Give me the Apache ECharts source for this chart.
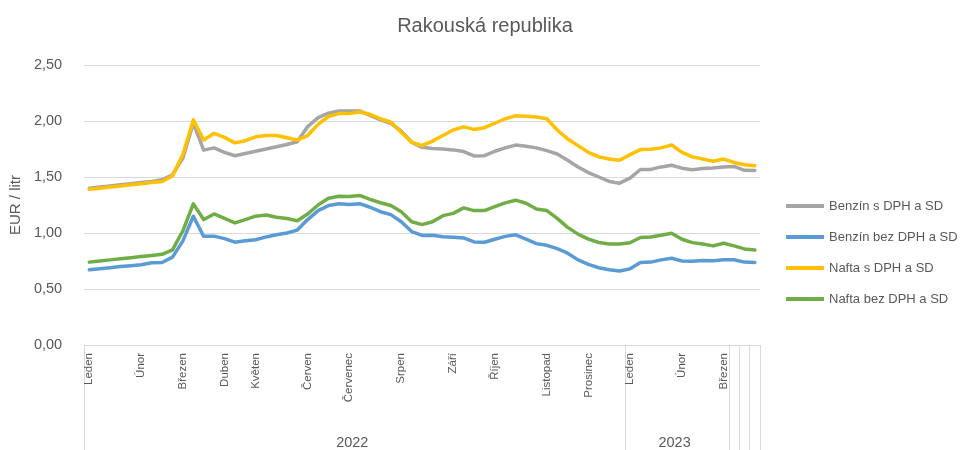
<!DOCTYPE html>
<html><head><meta charset="utf-8">
<script src="https://cdn.jsdelivr.net/npm/echarts@6/dist/echarts.min.js"></script>
<style>html,body{margin:0;padding:0;background:#fff}#c{width:970px;height:450px}</style>
</head><body><div id="c"></div>
<script>
// Month tick labels, one entry per weekly category ('' = no label)
const monthLabels = [
  'Leden','','','','','Únor','','','','Březen',
  '','','','Duben','','','Květen','','','',
  '','Červen','','','','Červenec','','','','',
  'Srpen','','','','','Září','','','','Říjen',
  '','','','','Listopad','','','','Prosinec','',
  '','','Leden','','','','','Únor','','',
  '','Březen','','',''
];
// Year groups: [label, number of weekly categories]
const yearGroups = [['2022', 52], ['2023', 10], ['', 1], ['', 1], ['', 1]];

const seriesNames = ['Benzín s DPH a SD', 'Benzín bez DPH a SD', 'Nafta s DPH a SD', 'Nafta bez DPH a SD'];

const benzinS = [
  1.40,1.41,1.42,1.43,1.44,1.45,1.46,1.475,1.52,1.67,
  1.98,1.74,1.76,1.72,1.69,1.71,1.73,1.75,1.77,1.79,
  1.815,1.95,2.03,2.07,2.09,2.09,2.09,2.05,2.01,1.98,
  1.91,1.81,1.765,1.755,1.75,1.742,1.727,1.688,1.69,1.73,
  1.76,1.785,1.775,1.76,1.735,1.705,1.65,1.59,1.54,1.50,
  1.46,1.445,1.49,1.567,1.568,1.59,1.605,1.579,1.565,1.575,
  1.58,1.59,1.594,1.56,1.558
];
const benzinBez = [
  0.672,0.68,0.69,0.70,0.707,0.716,0.735,0.737,0.785,0.93,
  1.15,0.97,0.972,0.95,0.918,0.93,0.94,0.965,0.985,1.00,
  1.026,1.12,1.20,1.245,1.262,1.255,1.262,1.23,1.19,1.164,
  1.10,1.013,0.978,0.98,0.967,0.962,0.956,0.92,0.917,0.944,
  0.97,0.984,0.946,0.905,0.89,0.86,0.82,0.76,0.72,0.69,
  0.672,0.66,0.68,0.737,0.74,0.76,0.775,0.75,0.748,0.755,
  0.752,0.761,0.761,0.74,0.737
];
const naftaS = [
  1.39,1.40,1.41,1.42,1.43,1.44,1.45,1.46,1.51,1.70,
  2.01,1.83,1.89,1.854,1.805,1.824,1.859,1.87,1.87,1.85,
  1.83,1.87,1.97,2.04,2.066,2.066,2.08,2.06,2.02,1.99,
  1.90,1.81,1.78,1.82,1.87,1.92,1.948,1.925,1.94,1.98,
  2.02,2.046,2.043,2.035,2.02,1.92,1.84,1.78,1.72,1.68,
  1.66,1.65,1.70,1.745,1.748,1.76,1.786,1.72,1.68,1.66,
  1.64,1.66,1.63,1.61,1.60
];
const naftaBez = [
  0.74,0.75,0.76,0.77,0.78,0.79,0.80,0.81,0.85,1.02,
  1.26,1.12,1.17,1.13,1.09,1.12,1.15,1.16,1.14,1.13,
  1.11,1.17,1.25,1.31,1.328,1.325,1.335,1.30,1.27,1.245,
  1.19,1.10,1.075,1.10,1.155,1.175,1.224,1.20,1.20,1.235,
  1.269,1.293,1.266,1.215,1.20,1.13,1.05,0.99,0.945,0.915,
  0.902,0.902,0.913,0.96,0.965,0.98,0.997,0.944,0.914,0.902,
  0.885,0.909,0.885,0.858,0.848
];
const yMin = 0, yMax = 2.5, yStep = 0.5;

// ---- build helpers ----
const cats = monthLabels.map((_, i) => 'w' + i);
const yearLabelAt = {};
const yearBoundary = {};
let start = 0;
yearGroups.forEach(([lab, span]) => {
  yearBoundary[start] = true;
  if (lab) yearLabelAt[Math.floor((2 * start + span - 1) / 2)] = lab;
  start += span;
});

const FONT = 'Liberation Sans, Arial, sans-serif';
const TXT = '#595959';
const GRID = '#D9D9D9';
const colors = ['#A5A5A5', '#5B9BD5', '#FFC000', '#70AD47'];
const values = [benzinS, benzinBez, naftaS, naftaBez];

const chart = echarts.init(document.getElementById('c'), null, {renderer: 'canvas'});
chart.setOption({
  animation: false,
  backgroundColor: '#fff',
  title: {
    text: 'Rakouská republika', left: 'center', top: 11,
    textStyle: {fontFamily: FONT, fontSize: 20, fontWeight: 'normal', color: TXT}
  },
  grid: {left: 80, right: 210, top: 65, bottom: 104.5, containLabel: false},
  legend: {
    orient: 'vertical', left: 781, top: 193,
    icon: 'rect', itemWidth: 38, itemHeight: 4, itemGap: 15,
    data: seriesNames,
    textStyle: {fontFamily: FONT, fontSize: 13, color: TXT, lineHeight: 16}
  },
  xAxis: [
    {
      type: 'category', data: cats, boundaryGap: true, position: 'bottom',
      axisLine: {show: true, lineStyle: {color: GRID, width: 1}},
      axisTick: {show: false},
      axisLabel: {
        interval: 0, rotate: 90, margin: 8,
        fontFamily: FONT, fontSize: 11.5, color: TXT,
        formatter: (v, i) => monthLabels[i]
      },
      splitLine: {show: false}
    },
    {
      type: 'category', data: cats, boundaryGap: true, position: 'bottom',
      axisLine: {show: false},
      axisTick: {
        show: true, length: 106, interval: (i) => !!yearBoundary[i],
        lineStyle: {color: GRID, width: 1}
      },
      axisLabel: {
        interval: (i) => !!yearLabelAt[i], margin: 90,
        fontFamily: FONT, fontSize: 14.5, color: TXT,
        padding: [0, 0, 0, 6],
        formatter: (v, i) => yearLabelAt[i] || ''
      },
      splitLine: {show: false}
    }
  ],
  yAxis: {
    type: 'value', min: yMin, max: yMax, interval: yStep,
    name: 'EUR / litr', nameLocation: 'middle', nameGap: 61,
    nameTextStyle: {fontFamily: FONT, fontSize: 15, color: TXT},
    axisLine: {show: false}, axisTick: {show: false},
    axisLabel: {
      margin: 22, fontFamily: FONT, fontSize: 14.5, color: TXT,
      formatter: (v) => v.toFixed(2).replace('.', ',')
    },
    splitLine: {show: true, lineStyle: {color: GRID, width: 1}}
  },
  series: seriesNames.map((name, k) => ({
    name, type: 'line', xAxisIndex: 0, yAxisIndex: 0,
    data: values[k], symbol: 'none', smooth: false,
    lineStyle: {width: 3.5, color: colors[k], cap: 'round', join: 'round'},
    itemStyle: {color: colors[k]},
    z: 2 + k
  }))
});
</script>
</body></html>
